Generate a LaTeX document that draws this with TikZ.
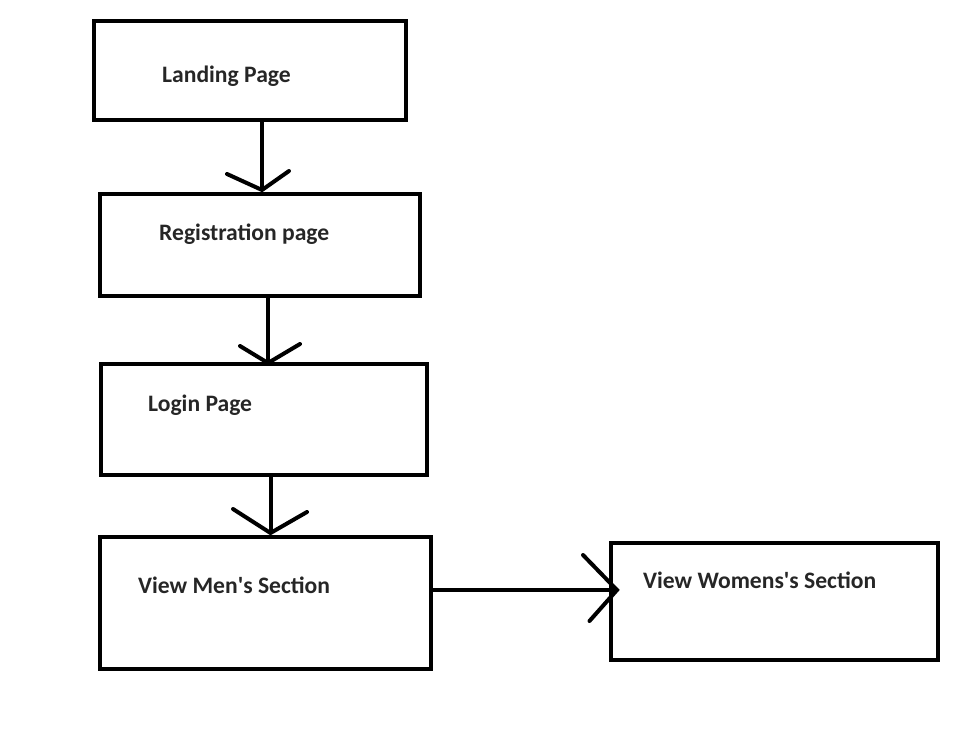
\documentclass[tikz,border=0pt]{standalone}
\usepackage{fontspec}
\setmainfont{Carlito}
\begin{document}
\begin{tikzpicture}[x=1pt,y=-1pt,
  box/.style={draw=black,line width=4pt,inner sep=0pt,outer sep=0pt,anchor=north west},
  lbl/.style={anchor=base west,inner sep=0pt,font=\fontsize{23.6}{27}\selectfont\bfseries,text=black!85},
  conn/.style={line width=4pt},
  barb/.style={line width=4pt,line cap=round}]
\useasboundingbox (0,0) rectangle (970,736);
% boxes
\node[box,minimum width=312pt,minimum height=99pt] (land) at (94,21) {};
\node[box,minimum width=320pt,minimum height=102pt] (reg) at (100,194) {};
\node[box,minimum width=326pt,minimum height=111pt] (login) at (101,364) {};
\node[box,minimum width=331pt,minimum height=132pt] (men) at (100,537) {};
\node[box,minimum width=327pt,minimum height=117pt] (women) at (611,543) {};
% labels
\node[lbl] (tland) at (162,82.3) {Landing Page};
\node[lbl] (treg) at (159,240) {Registration page};
\node[lbl] (tlogin) at (148,411) {Login Page};
\node[lbl] (tmen) at (138,593) {View Men\textquotesingle s Section};
\node[lbl] (twomen) at (643,588) {View Womens\textquotesingle s Section};
% connector tips
\coordinate (t1) at (262,190);
\coordinate (t2) at (268,363);
\coordinate (t3) at (270.5,533);
\coordinate (t4) at (617,590);
% connectors
\draw[conn] (land.south -| t1) -- (t1);
\draw[barb] (227,174) -- (t1) -- (289,171);
\draw[conn] (reg.south -| t2) -- (t2);
\draw[barb] (240,346) -- (t2) -- (300,344);
\draw[conn] (login.south -| t3) -- (t3);
\draw[barb] (233,509) -- (t3) -- (307,512);
\draw[conn] (men.east |- t4) -- (t4);
\draw[barb] (583,555) -- (t4) -- (589.5,621);
\end{tikzpicture}
\end{document}
